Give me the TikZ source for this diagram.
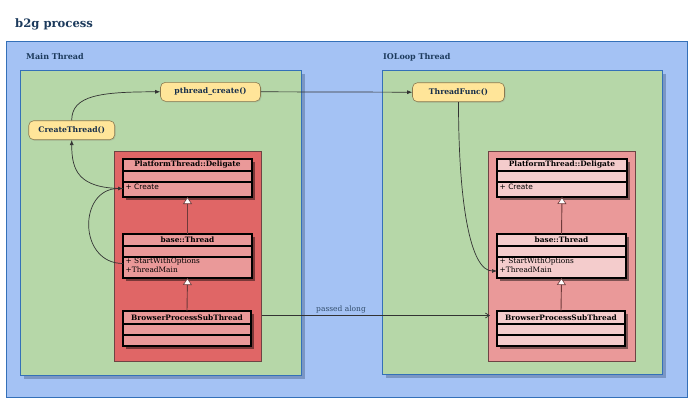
\documentclass[tikz,border=0pt]{standalone}
\usepackage{fontspec}
\setmainfont{DejaVu Serif}
\newfontfamily\sansf{DejaVu Sans}
\usetikzlibrary{arrows.meta,calc,shadows}
\definecolor{bluebg}{HTML}{A4C2F4}
\definecolor{blueln}{HTML}{3470B8}
\definecolor{greenbg}{HTML}{B6D7A8}
\definecolor{greensh}{HTML}{7A96C4}
\definecolor{redA}{HTML}{E06666}
\definecolor{redB}{HTML}{EA9999}
\definecolor{redC}{HTML}{F4CCCC}
\definecolor{redln}{HTML}{6E4444}
\definecolor{yel}{HTML}{FFE599}
\definecolor{yelln}{HTML}{8A7A50}
\definecolor{navy}{HTML}{1C3A5C}
\definecolor{inhln}{HTML}{6E3A3A}
\begin{document}
\begin{tikzpicture}[x=1pt,y=-1pt,
  cont/.style={anchor=north west, inner sep=0pt, outer sep=0pt},
  grpname/.style={anchor=west, inner sep=0pt, text=navy, font=\bfseries\fontsize{8}{9}\selectfont},
  cls/.style={draw=black, line width=1.3pt, anchor=north west, inner sep=0pt, outer sep=0pt, font=\bfseries\fontsize{7.4}{8}\selectfont},
  mtxt/.style={anchor=north west, inner sep=0pt, align=left, font=\fontsize{7.4}{9}\selectfont},
  clsshadow/.style={fill=black, opacity=0.45},
  fn/.style={draw=yelln, fill=yel, line width=0.6pt, rounded corners=5pt, minimum height=19pt, inner sep=0pt, font=\bfseries\fontsize{7.7}{9}\selectfont, text=navy!80!black, drop shadow={shadow xshift=1pt, shadow yshift=-1pt, opacity=0.25}},
  conn/.style={draw=black!80, line width=0.7pt, -{Latex[length=5pt,width=4pt]}},
  inh/.style={draw=inhln, line width=0.9pt, -{Triangle[open, fill=white, length=7pt, width=9pt, line width=0.6pt]}}
]
\useasboundingbox (0,0) rectangle (700,410);
% title
\node[anchor=west, inner sep=0pt, text=navy, font=\bfseries\fontsize{11.6}{13}\selectfont] (title) at (15,24.5) {b2g process};
% process box
\node[cont, draw=blueln, fill=bluebg, line width=1pt, minimum width=681pt, minimum height=356pt] (proc) at (6,41) {};
\node[grpname] (mainlbl) at (26,57) {Main Thread};
\node[grpname] (iolbl) at (383,57) {IOLoop Thread};
% green thread boxes
\fill[greensh] (24,74) rectangle (305,379);
\node[cont, draw=blueln, fill=greenbg, line width=0.9pt, minimum width=281pt, minimum height=305pt] (mainbox) at (20,70) {};
\fill[greensh] (386,74) rectangle (666,378);
\node[cont, draw=blueln, fill=greenbg, line width=0.9pt, minimum width=280pt, minimum height=304pt] (iobox) at (382,70) {};
% red boxes
\node[cont, draw=redln, fill=redA, line width=0.6pt, minimum width=147pt, minimum height=210pt] (lred) at (114,151) {};
\node[cont, draw=redln, fill=redB, line width=0.6pt, minimum width=147pt, minimum height=210pt] (rred) at (488,151) {};
% ---------- left classes
\fill[clsshadow] (126,162) rectangle (255,200);
\node[cls, fill=redB, minimum width=129pt, minimum height=12pt] (lpd) at (123,159) {PlatformThread::Deligate};
\node[cls, fill=redB, minimum width=129pt, minimum height=11pt] (lpdA) at (123,171) {};
\node[cls, fill=redB, minimum width=129pt, minimum height=15pt] (lpdM) at (123,182) {};
\node[mtxt] (lpdT) at (125.5,184) {\sansf + Create};
\fill[clsshadow] (126,237) rectangle (255,281);
\node[cls, fill=redB, minimum width=129pt, minimum height=12pt] (lbt) at (123,234) {base::Thread};
\node[cls, fill=redB, minimum width=129pt, minimum height=11pt] (lbtA) at (123,246) {};
\node[cls, fill=redB, minimum width=129pt, minimum height=21pt] (lbtM) at (123,257) {};
\node[mtxt] (lbtT) at (125.5,258) {+ StartWithOptions\\+ThreadMain};
\fill[clsshadow] (126,314) rectangle (254,349);
\node[cls, fill=redB, minimum width=128pt, minimum height=13pt] (lbs) at (123,311) {BrowserProcessSubThread};
\node[cls, fill=redB, minimum width=128pt, minimum height=11pt] (lbsA) at (123,324) {};
\node[cls, fill=redB, minimum width=128pt, minimum height=11pt] (lbsB) at (123,335) {};
% ---------- right classes
\fill[clsshadow] (500,162) rectangle (630,200);
\node[cls, fill=redC, minimum width=130pt, minimum height=12pt] (rpd) at (497,159) {PlatformThread::Deligate};
\node[cls, fill=redC, minimum width=130pt, minimum height=11pt] (rpdA) at (497,171) {};
\node[cls, fill=redC, minimum width=130pt, minimum height=15pt] (rpdM) at (497,182) {};
\node[mtxt] (rpdT) at (499.5,184) {\sansf + Create};
\fill[clsshadow] (500,237) rectangle (629,281);
\node[cls, fill=redC, minimum width=129pt, minimum height=12pt] (rbt) at (497,234) {base::Thread};
\node[cls, fill=redC, minimum width=129pt, minimum height=11pt] (rbtA) at (497,246) {};
\node[cls, fill=redC, minimum width=129pt, minimum height=21pt] (rbtM) at (497,257) {};
\node[mtxt] (rbtT) at (499.5,258) {+ StartWithOptions\\+ThreadMain};
\fill[clsshadow] (500,314) rectangle (628,349);
\node[cls, fill=redC, minimum width=128pt, minimum height=13pt] (rbs) at (497,311) {BrowserProcessSubThread};
\node[cls, fill=redC, minimum width=128pt, minimum height=11pt] (rbsA) at (497,324) {};
\node[cls, fill=redC, minimum width=128pt, minimum height=11pt] (rbsB) at (497,335) {};
% inheritance
\draw[inh] (lbt.north) -- (lpdM.south);
\draw[inh] (lbs.north) -- (lbtM.south);
\draw[inh] (rbt.north) -- (rpdM.south);
\draw[inh] (rbs.north) -- (rbtM.south);
% function nodes
\node[fn, minimum width=86pt] (ct) at (71.7,130.2) {CreateThread()};
\node[fn, minimum width=100pt] (pc) at (210.5,91.8) {pthread\_create()};
\node[fn, minimum width=92pt] (tf) at (458.5,92.2) {ThreadFunc()};
% connectors
\draw[conn] (ct.north) .. controls ($(ct.north)+(0,-25)$) and ($(pc.west)+(-60,0)$) .. (pc.west);
\draw[conn] (pc.east) -- (tf.west);
\draw[conn] ([yshift=1pt]lpdM.west) .. controls ($(lpdM.west)+(-45,-1)$) and ($(ct.south)+(0,30)$) .. (ct.south);
\coordinate (lsw) at ([yshift=4pt]lbtM.west);
\draw[conn] (lsw) .. controls ($(lsw)+(-45,0)$) and ($(lpdM.west)+(-45,-1)$) .. ([yshift=1pt]lpdM.west);
\coordinate (rtm) at ([yshift=-3.5pt]rbtM.west);
\draw[conn] (tf.south) .. controls ($(tf.south)+(0,100)$) and ($(rtm)+(-27,0)$) .. (rtm);
\draw[draw=black!80, line width=0.7pt, -{Straight Barb[length=4pt,width=5pt]}, shorten <=11pt, shorten >=7pt]
  ([yshift=2pt]lbs.east) -- node[pos=0.366, above=2pt, inner sep=0pt, text=navy!90, font=\fontsize{7.5}{9}\selectfont] (pa) {passed along} ([yshift=2pt]rbs.west);
\end{tikzpicture}
\end{document}
